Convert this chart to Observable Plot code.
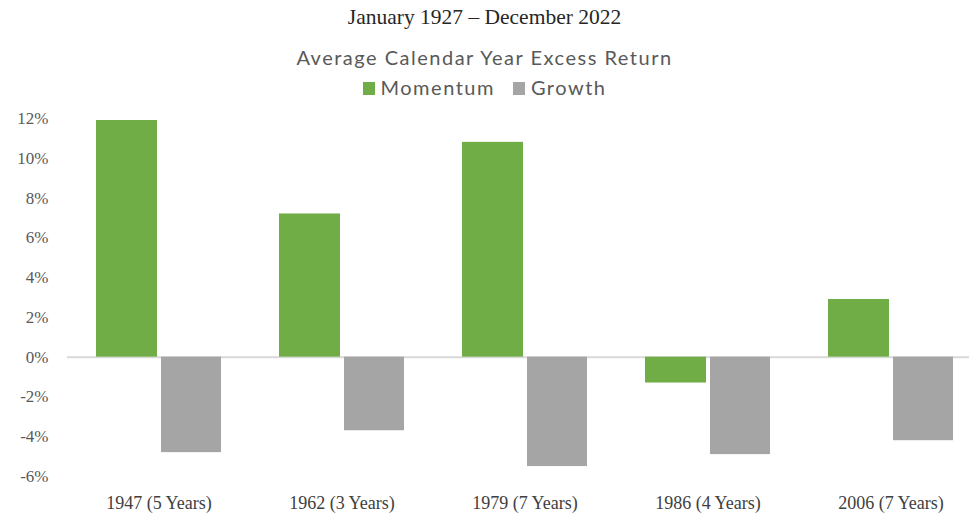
<!DOCTYPE html>
<html>
<head>
<meta charset="utf-8">
<script src="https://cdn.jsdelivr.net/npm/d3@7"></script>
<script src="https://cdn.jsdelivr.net/npm/@observablehq/plot@0.6"></script>
<style>
  body { margin: 0; background: #fff; width: 969px; height: 516px; overflow: hidden; }
  #header { position: relative; height: 100px; width: 969px; }
  #subtitle { position: absolute; top: 5px; left: 0; width: 969px; text-align: center;
    font-family: "Liberation Serif", "DejaVu Serif", serif; font-size: 21.5px; color: #262626; }
  #ctitle { position: absolute; top: 45px; left: 0; width: 969px; text-align: center;
    font-family: Lato, "Open Sans", sans-serif; font-size: 20px; letter-spacing: 1.5px; color: #595959; }
  #legend { position: absolute; top: 75px; left: 0; width: 969px; text-align: center;
    font-family: Lato, "Open Sans", sans-serif; font-size: 20px; letter-spacing: 1.5px; color: #595959; }
  .sw { display: inline-block; width: 12px; height: 13px; margin-right: 6px; vertical-align: 0px; }
  .item { margin: 0 9px; }
</style>
</head>
<body>
<div id="header">
  <div id="subtitle">January 1927 – December 2022</div>
  <div id="ctitle">Average Calendar Year Excess Return</div>
  <div id="legend"></div>
</div>
<div id="chart"></div>
<script>
const periods = ["1947 (5 Years)", "1962 (3 Years)", "1979 (7 Years)", "1986 (4 Years)", "2006 (7 Years)"];
const momentum = [11.9, 7.2, 10.8, -1.3, 2.9];
const growth = [-4.8, -3.7, -5.5, -4.9, -4.2];
const seriesNames = ["Momentum", "Growth"];
const seriesColors = ["#70ad47", "#a5a5a5"];
const yTicks = [-6, -4, -2, 0, 2, 4, 6, 8, 10, 12];

const momData = periods.map((p, i) => ({period: p, series: "Momentum", value: momentum[i]}));
const groData = periods.map((p, i) => ({period: p, series: "Growth", value: growth[i]}));

const legend = document.getElementById("legend");
legend.innerHTML = seriesNames.map((s, i) =>
  `<span class="item"><span class="sw" style="background:${seriesColors[i]}"></span>${s}</span>`).join("");

const chart = Plot.plot({
  width: 969,
  height: 416,
  marginLeft: 67,
  marginRight: 0,
  marginTop: 18,
  marginBottom: 40,
  style: {fontFamily: "'Liberation Serif', 'DejaVu Serif', serif", fontSize: "18px", color: "#404040", background: "white"},
  x: {domain: periods, range: [67, 982], paddingInner: 0.317, paddingOuter: 0.1585, label: null},
  y: {domain: [-6, 12], label: null},
  color: {domain: seriesNames, range: seriesColors},
  marks: [
    Plot.axisY({ticks: yTicks, tickSize: 0, tickPadding: 19, tickFormat: d => d + "%", fill: "#595959", fontSize: 17}),
    Plot.axisX({tickSize: 0, tickPadding: 20, fill: "#404040", fontSize: 18}),
    Plot.ruleY([0], {stroke: "#d9d9d9", strokeWidth: 2}),
    Plot.barY(momData, {x: "period", y: "value", fill: "series", insetRight: 64, insetLeft: 0}),
    Plot.barY(groData, {x: "period", y: "value", fill: "series", insetLeft: 65, insetRight: 0})
  ]
});
document.getElementById("chart").appendChild(chart);
</script>
</body>
</html>
